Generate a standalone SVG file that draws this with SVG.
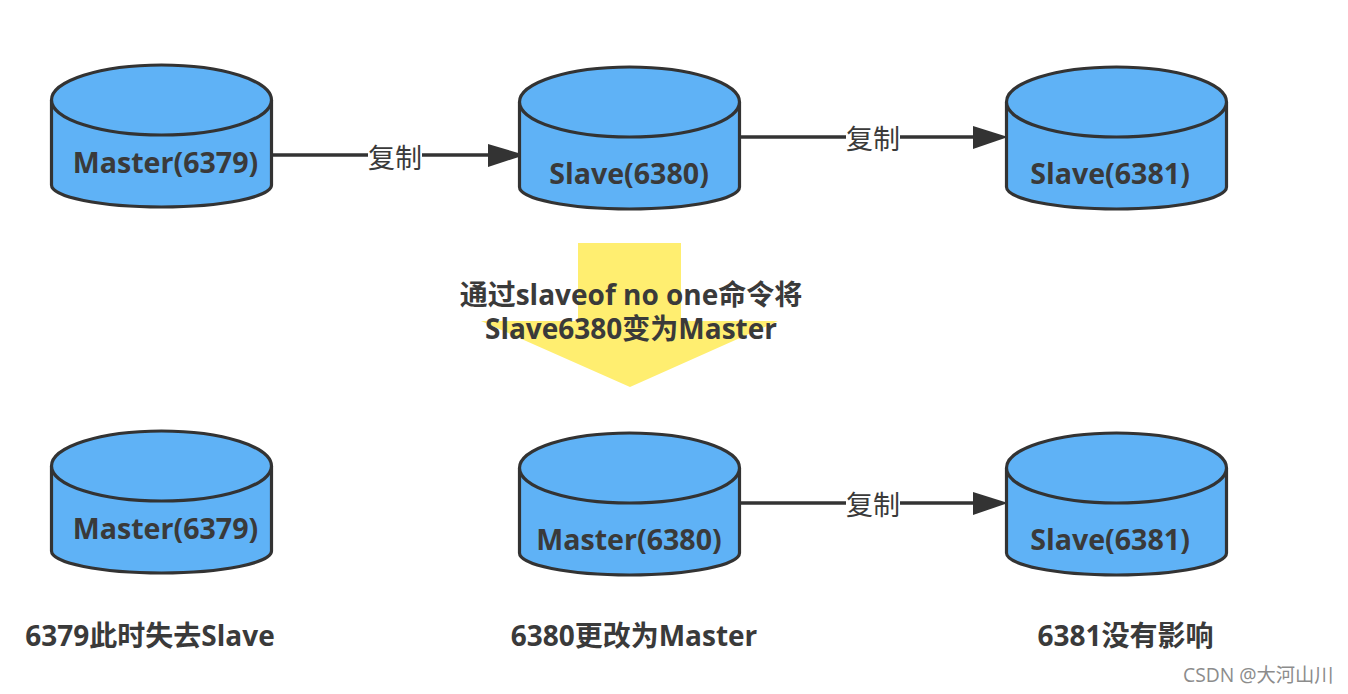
<svg xmlns="http://www.w3.org/2000/svg" width="1348" height="694" viewBox="0 0 1348 694">
<style>
text{font-family:"Open Sans","Noto Sans CJK SC",sans-serif;fill:#3a3a3a;text-anchor:middle}
.n{font-size:28.600px;font-weight:700}
.t{font-size:28px;font-weight:700}
.l{font-size:27px;font-weight:400}
.w{font-size:19.300px;fill:#8c8c8c;text-anchor:start}
.c{fill:#5fb2f6;stroke:#333;stroke-width:3.200}
.e{stroke:#333;stroke-width:3.500;fill:none}
.h{fill:#333}
</style>
<defs>
<g id="cyl">
<path class="c" d="M0 35V120C0 132 49 142 110 142S220 132 220 120V35"/>
<ellipse class="c" cx="110" cy="35" rx="110" ry="35"/>
</g>
</defs>
<rect width="1348" height="694" fill="#fff"/>
<g id="big-arrow"><path fill="#ffee70" d="M578 243H681V321H778L630 387L481 321H578Z"/>
<text class="t" x="631" y="305">通过slaveof no one命令将</text>
<text class="t" x="631" y="339">Slave6380变为Master</text></g>
<g id="connectors">
<path class="e" d="M273 155H495"/><path class="h" d="M488 144L525 155L488 167Z"/>
<path class="e" d="M740 137H980"/><path class="h" d="M973 126L1008 137L973 149Z"/>
<path class="e" d="M740 503H980"/><path class="h" d="M973 492L1008 503L973 515Z"/>
</g>
<g id="label1"><rect x="368" y="145" width="54" height="28" fill="#fff"/><text class="l" x="395" y="168">复制</text></g>
<g id="label2"><rect x="846" y="126" width="54" height="28" fill="#fff"/><text class="l" x="873" y="149">复制</text></g>
<g id="label3"><rect x="846" y="492" width="54" height="28" fill="#fff"/><text class="l" x="873" y="515">复制</text></g>
<g id="n1"><use href="#cyl" x="51.500" y="65"/><text class="n" x="165.500" y="173">Master(6379)</text></g>
<g id="n2"><use href="#cyl" x="519.500" y="67"/><text class="n" x="629" y="184">Slave(6380)</text></g>
<g id="n3"><use href="#cyl" x="1006.500" y="67"/><text class="n" x="1110" y="184">Slave(6381)</text></g>
<g id="n4"><use href="#cyl" x="51.500" y="431"/><text class="n" x="165.500" y="539">Master(6379)</text></g>
<g id="n5"><use href="#cyl" x="519.500" y="433"/><text class="n" x="629" y="550">Master(6380)</text></g>
<g id="n6"><use href="#cyl" x="1006.500" y="433"/><text class="n" x="1110" y="550">Slave(6381)</text></g>
<g id="cap1"><text class="t" x="150" y="646">6379此时失去Slave</text></g>
<g id="cap2"><text class="t" x="634" y="646">6380更改为Master</text></g>
<g id="cap3"><text class="t" x="1125.500" y="646">6381没有影响</text></g>
<text class="w" x="1183" y="682">CSDN @大河山川</text>
</svg>
